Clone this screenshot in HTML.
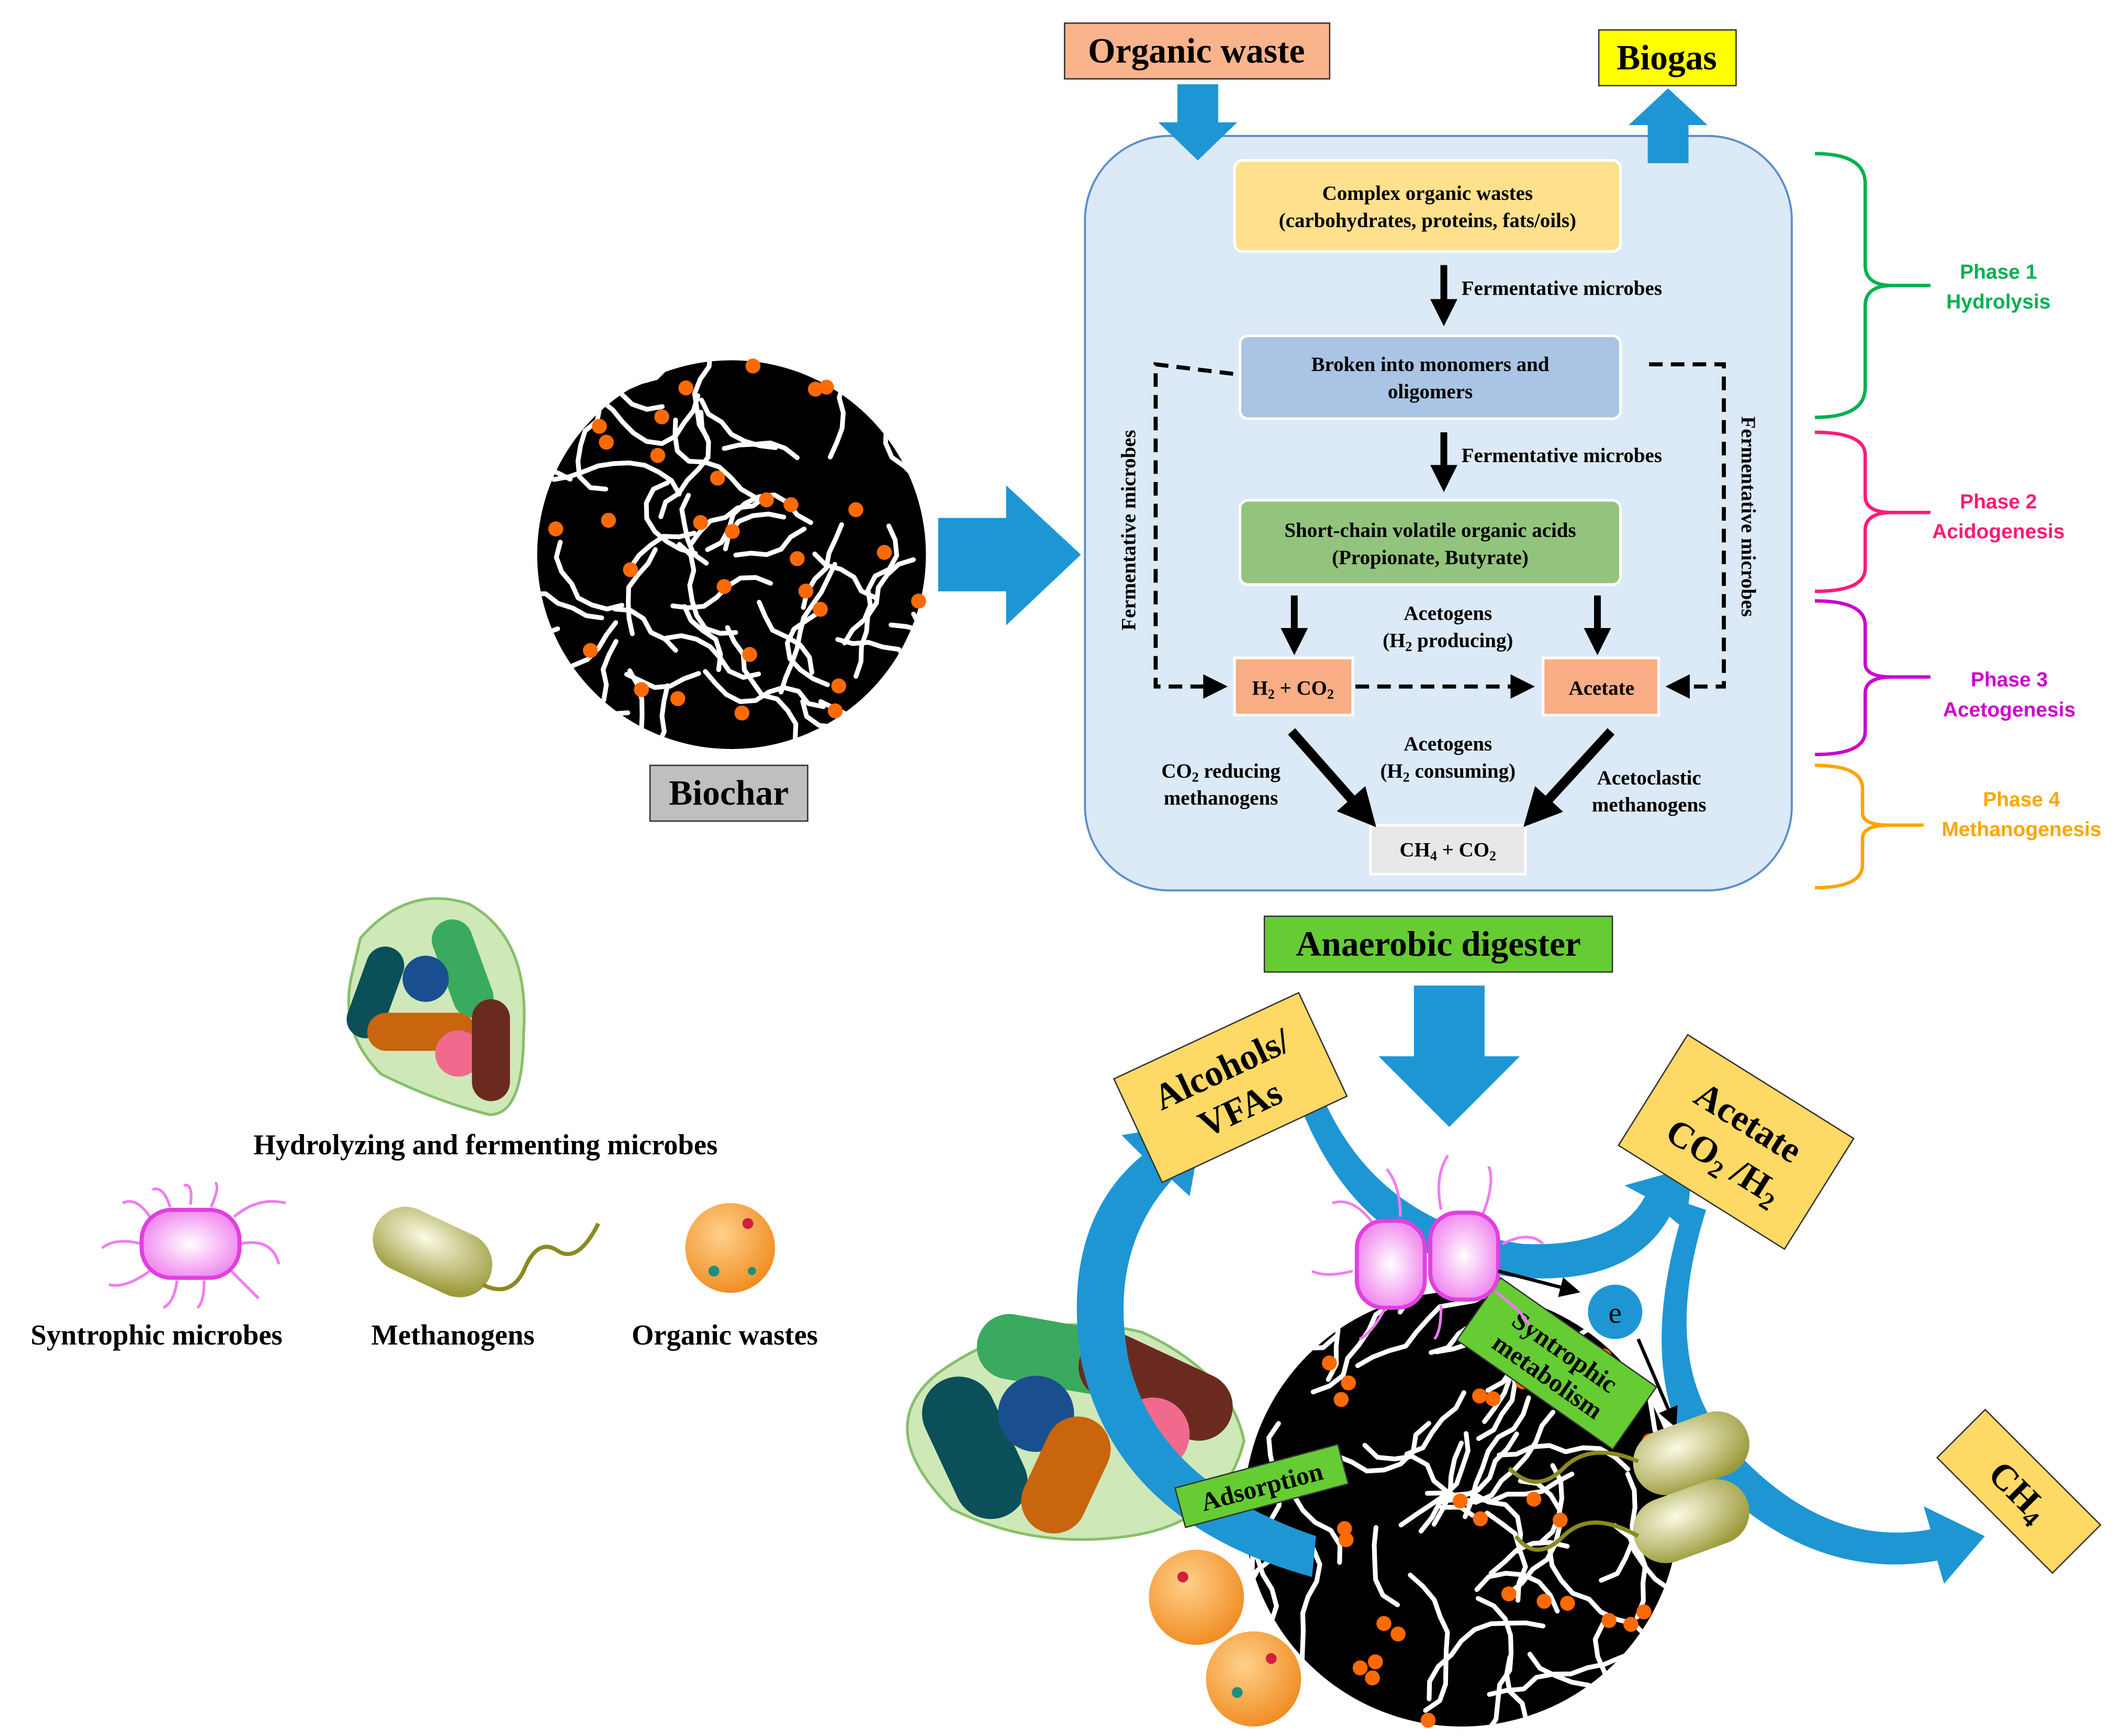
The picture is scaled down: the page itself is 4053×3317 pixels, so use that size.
<!DOCTYPE html>
<html><head><meta charset="utf-8"><style>
html,body{margin:0;padding:0;background:#fff}
svg{display:block}
text{font-family:"Liberation Serif",serif}
.s text{font-family:"Liberation Sans",sans-serif;font-weight:bold}
</style></head><body>
<svg id="g" width="4053" height="3317" viewBox="0 0 1560 1277" xmlns="http://www.w3.org/2000/svg">
<defs>
<marker id="ah" markerWidth="6" markerHeight="6" refX="5" refY="3" orient="auto" markerUnits="strokeWidth"><path d="M0,0 L6,3 L0,6 z" fill="#000"/></marker>
<marker id="ah2" markerWidth="4" markerHeight="4" refX="2" refY="2" orient="auto"><path d="M0,0 L4,2 L0,4 z" fill="#000"/></marker>
<radialGradient id="bub" cx="50%" cy="50%" r="50%"><stop offset="0" stop-color="#fff"/><stop offset="1" stop-color="#f28ff0"/></radialGradient>
<radialGradient id="met" cx="40%" cy="35%" r="70%"><stop offset="0" stop-color="#fbfbe6"/><stop offset="1" stop-color="#9c9a3a"/></radialGradient>
<radialGradient id="org" cx="40%" cy="35%" r="70%"><stop offset="0" stop-color="#ffd08a"/><stop offset="1" stop-color="#f08a1f"/></radialGradient>
<clipPath id="c1"><circle cx="538" cy="408" r="143"/></clipPath>
<clipPath id="c2"><circle cx="1075" cy="1110" r="160"/></clipPath>
</defs>

<rect x="783" y="17" width="195" height="41" fill="#f9b48c" stroke="#333"/>
<text x="880" y="46" font-size="26" font-weight="bold" text-anchor="middle">Organic waste</text>
<rect x="1176" y="22" width="101" height="41" fill="#ffff00" stroke="#333"/>
<text x="1226" y="51" font-size="26" font-weight="bold" text-anchor="middle">Biogas</text>

<rect x="798" y="100" width="520" height="555" rx="62" fill="#dce9f6" stroke="#5b8fc9" stroke-width="1.5"/>
<path d="M866,62 H896 V90 H910 L881,118 L852,90 H866 Z" fill="#1e96d4"/>
<path d="M1212,120 H1242 V92 H1256 L1227,65 L1198,92 H1212 Z" fill="#1e96d4"/>

<g font-size="15" font-weight="bold" text-anchor="middle">
<rect x="908" y="118" width="284" height="67" rx="6" fill="#ffe08c" stroke="#fff" stroke-width="2"/>
<text x="1050" y="147">Complex organic wastes</text>
<text x="1050" y="167">(carbohydrates, proteins, fats/oils)</text>
<rect x="912" y="247" width="280" height="61" rx="6" fill="#a9c4e4" stroke="#fff" stroke-width="2"/>
<text x="1052" y="273">Broken into monomers and</text>
<text x="1052" y="293">oligomers</text>
<rect x="912" y="368" width="280" height="62" rx="6" fill="#93c47d" stroke="#fff" stroke-width="2"/>
<text x="1052" y="395">Short-chain volatile organic acids</text>
<text x="1052" y="415">(Propionate, Butyrate)</text>
<rect x="908" y="484" width="87" height="42" fill="#f8ad84" stroke="#fff" stroke-width="2"/>
<text x="951" y="511">H<tspan font-size="10" dy="3">2</tspan><tspan dy="-3"> + CO</tspan><tspan font-size="10" dy="3">2</tspan></text>
<rect x="1135" y="484" width="85" height="42" fill="#f8ad84" stroke="#fff" stroke-width="2"/>
<text x="1178" y="511">Acetate</text>
<rect x="1008" y="607" width="114" height="36" fill="#e8e8e8" stroke="#fff" stroke-width="2"/>
<text x="1065" y="630">CH<tspan font-size="10" dy="3">4</tspan><tspan dy="-3"> + CO</tspan><tspan font-size="10" dy="3">2</tspan></text>
<text x="1065" y="456">Acetogens</text>
<text x="1065" y="476">(H<tspan font-size="10" dy="3">2</tspan><tspan dy="-3"> producing)</tspan></text>
<text x="1065" y="552">Acetogens</text>
<text x="1065" y="572">(H<tspan font-size="10" dy="3">2</tspan><tspan dy="-3"> consuming)</tspan></text>
<text x="898" y="572">CO<tspan font-size="10" dy="3">2</tspan><tspan dy="-3"> reducing</tspan></text>
<text x="898" y="592">methanogens</text>
<text x="1213" y="577">Acetoclastic</text>
<text x="1213" y="597">methanogens</text>
</g>
<g font-size="15" font-weight="bold">
<text x="1075" y="217">Fermentative microbes</text>
<text x="1075" y="340">Fermentative microbes</text>
<text transform="translate(835,390) rotate(-90)" text-anchor="middle">Fermentative microbes</text>
<text transform="translate(1281,380) rotate(90)" text-anchor="middle">Fermentative microbes</text>
</g>
<g stroke="#000" stroke-width="5" fill="none">
<line x1="1062" y1="195" x2="1062" y2="230" marker-end="url(#ah2)"/>
<line x1="1062" y1="318" x2="1062" y2="352" marker-end="url(#ah2)"/>
<line x1="952" y1="438" x2="952" y2="472" marker-end="url(#ah2)"/>
<line x1="1175" y1="438" x2="1175" y2="472" marker-end="url(#ah2)"/>
<line x1="950" y1="538" x2="1003" y2="598" stroke-width="7" marker-end="url(#ah2)"/>
<line x1="1185" y1="538" x2="1130" y2="598" stroke-width="7" marker-end="url(#ah2)"/>
</g>
<g stroke="#000" stroke-width="3" fill="none" stroke-dasharray="10,6">
<line x1="997" y1="505" x2="1126" y2="505" marker-end="url(#ah)"/>
<polyline points="907,275 850,268 850,505 900,505" marker-end="url(#ah)"/>
<polyline points="1213,268 1268,268 1268,505 1228,505" marker-end="url(#ah)"/>
</g>

<g fill="none" stroke-width="2.5">
<path d="M1335,113 Q1372,113 1372,135 V195 Q1372,210 1392,210 H1420 M1392,210 Q1372,210 1372,225 V285 Q1372,307 1335,307" stroke="#00b050"/>
<path d="M1335,318 Q1372,318 1372,335 V365 Q1372,377 1392,377 H1420 M1392,377 Q1372,377 1372,390 V418 Q1372,435 1335,435" stroke="#ff1a75"/>
<path d="M1335,442 Q1372,442 1372,460 V488 Q1372,498 1392,498 H1420 M1392,498 Q1372,498 1372,510 V538 Q1372,555 1335,555" stroke="#cc00cc"/>
<path d="M1335,563 Q1370,563 1370,580 V598 Q1370,607 1390,607 H1415 M1390,607 Q1370,607 1370,617 V636 Q1370,653 1335,653" stroke="#ffa500"/>
</g>
<g class="s" font-size="15" text-anchor="middle">
<text x="1470" y="205" fill="#00b050">Phase 1</text><text x="1470" y="227" fill="#00b050">Hydrolysis</text>
<text x="1470" y="374" fill="#ff1a75">Phase 2</text><text x="1470" y="396" fill="#ff1a75">Acidogenesis</text>
<text x="1478" y="505" fill="#cc00cc">Phase 3</text><text x="1478" y="527" fill="#cc00cc">Acetogenesis</text>
<text x="1487" y="593" fill="#ffa500">Phase 4</text><text x="1487" y="615" fill="#ffa500">Methanogenesis</text>
</g>

<rect x="930" y="674" width="256" height="41" fill="#66cc33" stroke="#333"/>
<text x="1058" y="703" font-size="26" font-weight="bold" text-anchor="middle">Anaerobic digester</text>

<circle cx="538" cy="408" r="143" fill="#000"/>
<g id="sq1" clip-path="url(#c1)" stroke="#fff" stroke-width="3.5" fill="none" stroke-linecap="round" stroke-linejoin="round"></g>
<g id="dt1" fill="#ff6a00"></g>
<rect x="478" y="563" width="116" height="41" fill="#bfbfbf" stroke="#333"/>
<text x="536" y="592" font-size="26" font-weight="bold" text-anchor="middle">Biochar</text>
<path d="M690,381 H740 V357 L795,408 L740,460 V435 H690 Z" fill="#1e96d4"/>

<path d="M265,690 Q300,650 345,665 Q390,690 385,760 Q385,820 360,820 Q320,810 280,790 Q250,760 258,720 Z" fill="#cfe8b8" stroke="#86c06a" stroke-width="2"/>
<rect x="262" y="695" width="28" height="70" rx="14" fill="#0b4f58" transform="rotate(20 276 730)"/>
<rect x="325" y="675" width="30" height="75" rx="15" fill="#3aaa5e" transform="rotate(-20 340 712)"/>
<circle cx="313" cy="720" r="17" fill="#1a4f8f"/>
<rect x="270" y="745" width="80" height="28" rx="14" fill="#c8650e"/>
<circle cx="337" cy="775" r="17" fill="#f06a8e"/>
<rect x="347" y="735" width="28" height="75" rx="14" fill="#6b2a20"/>
<text x="357" y="849" font-size="21" font-weight="bold" text-anchor="middle">Hydrolyzing and fermenting microbes</text>
<g stroke="#f07cf0" stroke-width="2" fill="none">
<path d="M110,895 Q100,880 90,885 M125,888 Q120,872 112,875 M140,886 Q142,870 135,872 M155,888 Q162,872 158,870 M172,895 Q190,880 210,885 M176,915 Q200,910 205,930 M170,935 Q185,950 190,955 M150,942 Q150,958 145,962 M130,942 Q128,958 120,962 M110,935 Q92,948 80,945 M104,915 Q85,910 75,918"/>
</g>
<rect x="104" y="890" width="72" height="50" rx="22" fill="url(#bub)" stroke="#e040e0" stroke-width="3"/>
<rect x="272" y="897" width="92" height="48" rx="24" fill="url(#met)" transform="rotate(25 318 921)"/>
<path d="M355,945 Q375,955 385,935 Q395,910 410,920 Q425,930 440,900" stroke="#8a8a20" stroke-width="3" fill="none"/>
<circle cx="537" cy="918" r="33" fill="url(#org)"/>
<circle cx="525" cy="935" r="4" fill="#1b8f7d"/><circle cx="550" cy="900" r="4" fill="#d02040"/><circle cx="553" cy="935" r="3" fill="#1b8f7d"/>
<g font-size="21" font-weight="bold" text-anchor="middle">
<text x="115" y="989">Syntrophic microbes</text>
<text x="333" y="989">Methanogens</text>
<text x="533" y="989">Organic wastes</text>
</g>

<path d="M1040,725 H1092 V777 H1118 L1066,829 L1014,777 H1040 Z" fill="#1e96d4"/>
<path d="M690,1010 Q640,1050 700,1110 Q760,1140 830,1130 Q900,1120 915,1060 Q905,1010 840,980 Q760,960 690,1010 Z" fill="#cfe8b8" stroke="#86c06a" stroke-width="2"/>
<rect x="690" y="1010" width="54" height="110" rx="27" fill="#0b4f58" transform="rotate(-25 717 1065)"/>
<rect x="718" y="972" width="110" height="48" rx="24" fill="#3aaa5e" transform="rotate(10 773 996)"/>
<circle cx="762" cy="1040" r="28" fill="#1a4f8f"/>
<rect x="790" y="995" width="120" height="50" rx="25" fill="#6b2a20" transform="rotate(25 850 1020)"/>
<rect x="760" y="1040" width="48" height="90" rx="24" fill="#c8650e" transform="rotate(25 784 1085)"/>
<circle cx="848" cy="1055" r="27" fill="#f06a8e"/>
<circle cx="1075" cy="1110" r="160" fill="#000"/>
<g id="sq2" clip-path="url(#c2)" stroke="#fff" stroke-width="3.5" fill="none" stroke-linecap="round" stroke-linejoin="round"></g>
<g id="dt2" fill="#ff6a00"></g>
<circle cx="880" cy="1175" r="35" fill="url(#org)"/><circle cx="922" cy="1235" r="35" fill="url(#org)"/>
<circle cx="870" cy="1160" r="4" fill="#d02040"/><circle cx="910" cy="1245" r="4" fill="#1b8f7d"/><circle cx="935" cy="1220" r="4" fill="#d02040"/>

<g fill="#1e96d4">
<path d="M965,1160 Q820,1120 795,1000 Q780,900 840,850 L825,835 L885,825 L875,880 L862,868 Q815,920 830,1000 Q850,1090 968,1130 Z"/>
<path d="M970,800 Q1010,900 1120,915 Q1190,918 1210,880 L1195,872 L1245,858 L1240,905 L1228,895 Q1200,945 1120,940 Q1000,930 955,810 Z"/>
<path d="M1255,890 Q1220,1000 1270,1060 Q1340,1140 1420,1125 L1415,1108 L1460,1130 L1430,1165 L1425,1148 Q1330,1165 1250,1080 Q1200,1010 1240,885 Z"/>
</g>
<g font-weight="bold">
<g transform="translate(905,800) rotate(-25)"><rect x="-75" y="-42" width="150" height="84" fill="#ffd966" stroke="#333"/>
<text y="-6" font-size="27" text-anchor="middle">Alcohols/</text><text y="26" font-size="27" text-anchor="middle">VFAs</text></g>
<g transform="translate(1277,840) rotate(32)"><rect x="-72" y="-48" width="144" height="96" fill="#ffd966" stroke="#333"/>
<text y="-8" font-size="27" text-anchor="middle">Acetate</text><text y="26" font-size="27" text-anchor="middle">CO<tspan font-size="18" dy="5">2</tspan><tspan dy="-5"> /H</tspan><tspan font-size="18" dy="5">2</tspan></text></g>
<g transform="translate(1485,1097) rotate(45)"><rect x="-60" y="-25" width="120" height="50" fill="#ffd966" stroke="#333"/>
<text y="9" font-size="27" text-anchor="middle">CH<tspan font-size="18" dy="5">4</tspan></text></g>
<g transform="translate(928,1093) rotate(-15)"><rect x="-62" y="-15" width="124" height="30" fill="#66cc33" stroke="#333"/>
<text y="7" font-size="19" text-anchor="middle">Adsorption</text></g>
<g transform="translate(1145,1003) rotate(35)"><rect x="-70" y="-28" width="140" height="56" fill="#66cc33" stroke="#333"/>
<text y="-4" font-size="19" text-anchor="middle">Syntrophic</text><text y="18" font-size="19" text-anchor="middle">metabolism</text></g>
</g>
<g stroke="#f07cf0" stroke-width="2" fill="none">
<path d="M1010,900 Q995,880 980,885 M1030,895 Q1030,872 1020,860 M1060,890 Q1055,865 1065,850 M1090,895 Q1100,870 1095,858 M1105,915 Q1125,905 1135,915 M1100,950 Q1120,965 1125,975 M1060,960 Q1060,980 1055,985 M1020,960 Q1010,980 1000,985 M995,935 Q975,940 965,935"/>
</g>
<rect x="998" y="898" width="50" height="64" rx="20" fill="url(#bub)" stroke="#e040e0" stroke-width="3"/>
<rect x="1052" y="892" width="50" height="64" rx="20" fill="url(#bub)" stroke="#e040e0" stroke-width="3"/>
<line x1="1102" y1="935" x2="1160" y2="950" stroke="#000" stroke-width="2.5" marker-end="url(#ah)"/>
<circle cx="1188" cy="965" r="20" fill="#1e96d4"/>
<text x="1188" y="973" font-size="22" text-anchor="middle">e</text>
<line x1="1205" y1="985" x2="1232" y2="1048" stroke="#000" stroke-width="2.5" marker-end="url(#ah)"/>
<rect x="1200" y="1045" width="88" height="48" rx="24" fill="url(#met)" transform="rotate(-20 1244 1069)"/>
<rect x="1200" y="1095" width="88" height="48" rx="24" fill="url(#met)" transform="rotate(-20 1244 1119)"/>
<path d="M1205,1075 Q1170,1060 1150,1080 Q1130,1100 1110,1080 M1205,1130 Q1170,1110 1150,1130 Q1130,1150 1115,1130" stroke="#8a8a20" stroke-width="3" fill="none"/>
</svg>
<script>
(function(){
var s=7;function r(){s=(s*16807)%2147483647;return s/2147483647;}
var NS="http://www.w3.org/2000/svg";
function fill(cx,cy,R,sq,dt,n,m){
 var g=document.getElementById(sq),d=document.getElementById(dt);
 for(var i=0;i<n;i++){var x=cx+(r()*2-1)*R,y=cy+(r()*2-1)*R,a=r()*6.28,p="M"+x.toFixed(1)+","+y.toFixed(1);
  var k=5+Math.floor(r()*5);for(var j=0;j<k;j++){a+=(r()-0.5)*1.4;x+=Math.cos(a)*R*0.08;y+=Math.sin(a)*R*0.08;p+=" L"+x.toFixed(1)+","+y.toFixed(1);}
  var e=document.createElementNS(NS,"path");e.setAttribute("d",p);g.appendChild(e);}
 for(var i=0;i<m;i++){var a=r()*6.28,rr=Math.sqrt(r())*R;var c=document.createElementNS(NS,"circle");
  c.setAttribute("cx",cx+Math.cos(a)*rr);c.setAttribute("cy",cy+Math.sin(a)*rr);c.setAttribute("r",5.5);d.appendChild(c);}
}
fill(538,408,143,"sq1","dt1",55,30);fill(1075,1110,160,"sq2","dt2",60,30);
})();
</script>
</body></html>
